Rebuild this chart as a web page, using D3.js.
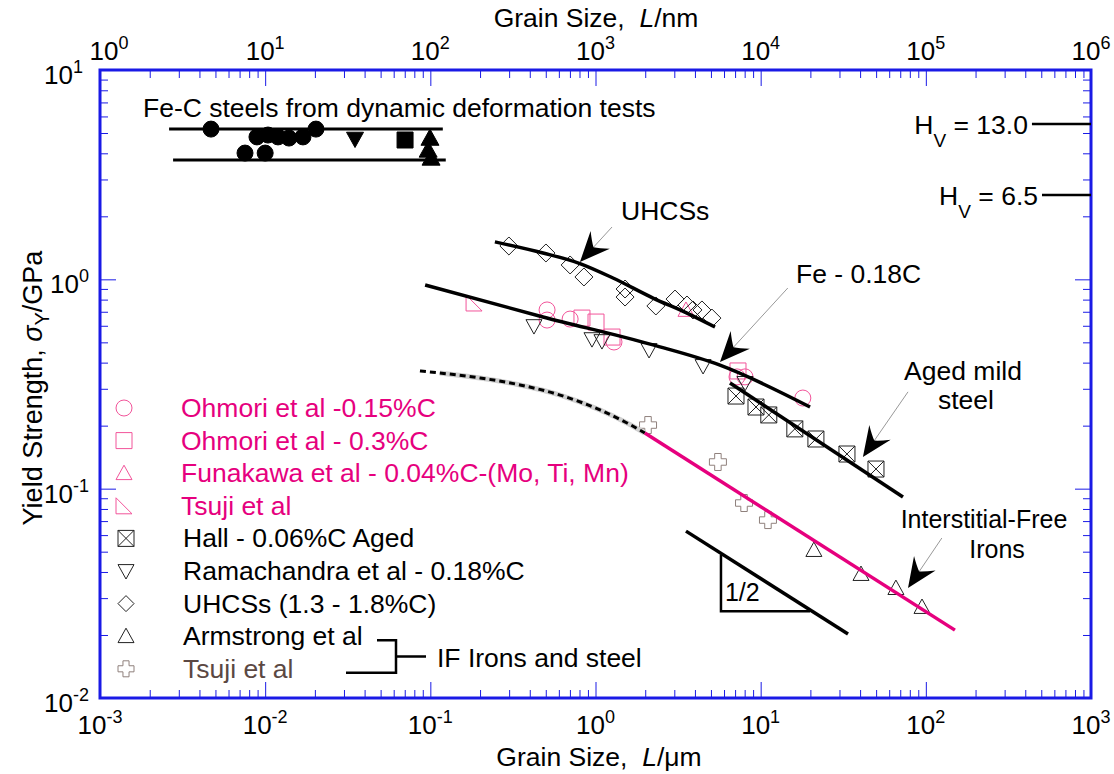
<!DOCTYPE html>
<html>
<head>
<meta charset="utf-8">
<script src="https://cdn.jsdelivr.net/npm/d3@7"></script>
<style>
  body { margin: 0; background: #fff; }
  svg text { font-family: "Liberation Sans", Arial, sans-serif; }
</style>
</head>
<body>
<div id="chart"></div>
<script>
// grain size L in µm, yield strength in GPa

// Fe-C steels from dynamic deformation tests (filled symbols)
var dynCircles = [[0.0047, 5.22], [0.00755, 4.01], [0.00892, 4.79], [0.0100, 4.01], [0.0104, 4.89],
                  [0.01196, 4.79], [0.01394, 4.73], [0.01694, 4.79], [0.0203, 5.22]];
var dynTriDown = [[0.035, 4.68]];
var dynSquares = [[0.0703, 4.63]];
var dynTriUp = [[0.0995, 4.73], [0.097, 4.15], [0.101, 3.80]];
var dynBands = [[[0.00262, 5.22], [0.119, 5.22]], [[0.00277, 3.72], [0.124, 3.72]]];

// open symbols
var ohmori015 = [[0.509, 0.714], [0.509, 0.639], [0.702, 0.646], [1.294, 0.502], [7.19, 0.342], [8.04, 0.342], [18.0, 0.271]];
var ohmori03 = [[0.828, 0.653], [1.007, 0.625], [1.259, 0.530], [7.29, 0.365]];
var funakawa = [[3.53, 0.714]];
var tsujiHS = [[0.184, 0.771]];
var hall = [[7.09, 0.277], [9.37, 0.2455], [11.2, 0.225], [16.1, 0.193], [21.6, 0.1727], [33.3, 0.1464], [49.9, 0.1241]];
var ramachandra = [[0.424, 0.598], [0.952, 0.518], [1.094, 0.507], [2.11, 0.4597], [4.48, 0.3855], [8.04, 0.320]];
var uhcs = [[0.299, 1.443], [0.501, 1.336], [0.702, 1.171], [0.851, 1.026], [1.51, 0.899], [1.51, 0.823],
            [2.32, 0.746], [3.03, 0.805], [3.58, 0.754], [3.89, 0.714], [4.41, 0.714], [5.07, 0.653]];
var armstrong = [[21.0, 0.0509], [40.5, 0.0391], [65.9, 0.0335], [94.8, 0.0272]];
var tsujiIF = [[2.08, 0.2013], [5.51, 0.1341], [7.93, 0.0854], [11.07, 0.0708]];

// trend lines
var uhcsFit = [[0.246, 1.51], [0.481, 1.336], [0.805, 1.19], [1.276, 1.015], [2.23, 0.814], [3.58, 0.690], [5.29, 0.592]];
var fe018Fit = [[0.093, 0.94], [0.481, 0.661], [2.23, 0.486], [5.67, 0.389], [19.9, 0.2455]];
var agedFit = [[6.52, 0.320], [72.7, 0.0912]];
var ifFit = [[1.99, 0.1845], [150, 0.0211]];
var ifDashed = [[0.0865, 0.365], [0.114, 0.357], [0.2, 0.338], [0.349, 0.313], [0.61, 0.280], [1.065, 0.2376], [1.551, 0.206], [1.99, 0.1845]];
var slopeLine = [[3.53, 0.0627], [33.8, 0.0202]];
var slopeTri = [[5.75, 0.0482], [5.75, 0.026], [19.9, 0.026]];

// hardness reference levels (right edge)
var hvLevels = [{ label: "13.0", s: 5.52, from: 439 }, { label: "6.5", s: 2.53, from: 505 }];

// annotation arrows: [tail, tip]
var arrows = [
  [[1.259, 1.778], [0.805, 1.21]],
  [[14.6, 0.909], [5.67, 0.403]],
  [[78.0, 0.290], [41.6, 0.1416]],
  [[125, 0.0581], [78, 0.0335]]
];

var xDecades = [-3, -2, -1, 0, 1, 2, 3];
var yDecades = [-2, -1, 0, 1];
var topDecades = [0, 1, 2, 3, 4, 5, 6];

var pink = "#e6007e", pinkMark = "#f2549a", brown = "#5b4843", crossMark = "#8f807c", blue = "#1a1ae6";

var legendItems = [
  { label: "Ohmori et al -0.15%C", shape: "circle", color: pink, mark: pinkMark },
  { label: "Ohmori et al - 0.3%C", shape: "square", color: pink, mark: pinkMark },
  { label: "Funakawa et al - 0.04%C-(Mo, Ti, Mn)", shape: "triUp", color: pink, mark: pinkMark },
  { label: "Tsuji et al", shape: "rightTri", color: pink, mark: pinkMark },
  { label: "Hall - 0.06%C Aged", shape: "xsquare", color: "#000", mark: "#222" },
  { label: "Ramachandra et al - 0.18%C", shape: "triDown", color: "#000", mark: "#222" },
  { label: "UHCSs (1.3 - 1.8%C)", shape: "diamond", color: "#000", mark: "#222" },
  { label: "Armstrong et al", shape: "triUp", color: "#000", mark: "#222" },
  { label: "Tsuji et al", shape: "cross", color: brown, mark: crossMark }
];

var W = 1114, H = 774;
var FS = 26.5;
var svg = d3.select("#chart").append("svg").attr("width", W).attr("height", H);

var x = d3.scaleLog().domain([1e-3, 1e3]).range([100, 1091]);
var y = d3.scaleLog().domain([1e-2, 1e1]).range([698, 70]);
var xTop = d3.scaleLog().domain([1, 1e6]).range([100, 1091]);

var x0 = x.range()[0], x1 = x.range()[1], y0 = y.range()[0], y1 = y.range()[1];

// symbol paths, centred on 0,0
function shapePath(type, s) {
  var h = s / 2;
  switch (type) {
    case "circle":
      return "M" + (-h) + ",0a" + h + "," + h + " 0 1,0 " + s + ",0a" + h + "," + h + " 0 1,0 " + (-s) + ",0Z";
    case "square":
      return "M" + (-h) + "," + (-h) + "H" + h + "V" + h + "H" + (-h) + "Z";
    case "xsquare":
      return "M" + (-h) + "," + (-h) + "H" + h + "V" + h + "H" + (-h) + "Z" +
        "M" + (-h) + "," + (-h) + "L" + h + "," + h + "M" + h + "," + (-h) + "L" + (-h) + "," + h;
    case "triUp":
      return "M0," + (-h) + "L" + h + "," + (h * 0.8) + "L" + (-h) + "," + (h * 0.8) + "Z";
    case "triDown":
      return "M" + (-h) + "," + (-h * 0.8) + "L" + h + "," + (-h * 0.8) + "L0," + h + "Z";
    case "rightTri":
      return "M" + (-h) + "," + (-h) + "L" + (-h) + "," + h + "L" + h + "," + h + "Z";
    case "diamond":
      return "M0," + (-h) + "L" + h + ",0L0," + h + "L" + (-h) + ",0Z";
    case "cross":
      var a = s * 0.19;
      return "M" + (-a) + "," + (-h) + "H" + a + "V" + (-a) + "H" + h + "V" + a + "H" + a + "V" + h +
        "H" + (-a) + "V" + a + "H" + (-h) + "V" + (-a) + "H" + (-a) + "Z";
  }
}

var line = d3.line().x(function (d) { return x(d[0]); }).y(function (d) { return y(d[1]); });
var curve = d3.line().curve(d3.curveMonotoneX).x(function (d) { return x(d[0]); }).y(function (d) { return y(d[1]); });

// ---- frame and ticks ----
function minorVals(decades) {
  var out = [];
  decades.slice(0, -1).forEach(function (e) {
    for (var k = 2; k <= 9; k++) out.push(k * Math.pow(10, e));
  });
  return out;
}
function majorVals(decades) { return decades.map(function (e) { return Math.pow(10, e); }); }

function tickGroup(axis, transform) {
  var g = svg.append("g").attr("transform", transform).call(axis);
  g.select(".domain").remove();
  g.selectAll("line").attr("stroke", blue).attr("stroke-width", 1);
  g.selectAll("text").remove();
}

tickGroup(d3.axisBottom(x).tickValues(minorVals(xDecades)).tickSize(-8), "translate(0," + y0 + ")");
tickGroup(d3.axisBottom(x).tickValues(majorVals(xDecades)).tickSize(-16), "translate(0," + y0 + ")");
tickGroup(d3.axisTop(xTop).tickValues(minorVals(topDecades)).tickSize(-8), "translate(0," + y1 + ")");
tickGroup(d3.axisTop(xTop).tickValues(majorVals(topDecades)).tickSize(-16), "translate(0," + y1 + ")");
tickGroup(d3.axisLeft(y).tickValues(minorVals(yDecades)).tickSize(-8), "translate(" + x0 + ",0)");
tickGroup(d3.axisLeft(y).tickValues(majorVals(yDecades)).tickSize(-16), "translate(" + x0 + ",0)");
tickGroup(d3.axisRight(y).tickValues(minorVals(yDecades)).tickSize(-8), "translate(" + x1 + ",0)");
tickGroup(d3.axisRight(y).tickValues(majorVals(yDecades)).tickSize(-16), "translate(" + x1 + ",0)");

svg.append("rect")
  .attr("x", x0).attr("y", y1).attr("width", x1 - x0).attr("height", y0 - y1)
  .attr("fill", "none").attr("stroke", blue).attr("stroke-width", 3);

// power-of-ten labels
function powLabel(px, py, e, anchor) {
  var t = svg.append("text").attr("x", px).attr("y", py).attr("text-anchor", anchor).attr("font-size", 26);
  t.append("tspan").text("10");
  t.append("tspan").attr("dy", -11).attr("font-size", 18).text(String(e));
}
xDecades.forEach(function (e) { powLabel(x(Math.pow(10, e)), y0 + 36, e, "middle"); });
// the corner labels sit close together, so nudge them apart
topDecades.forEach(function (e, i) { powLabel(xTop(Math.pow(10, e)) + (i === 0 ? 9 : 0), y1 - 10, e, "middle"); });
yDecades.forEach(function (e, i) { powLabel(x0 - (i === yDecades.length - 1 ? 17 : 11), y(Math.pow(10, e)) + 14, e, "end"); });

// axis titles
var tt = svg.append("text").attr("x", 596).attr("y", 27).attr("text-anchor", "middle").attr("font-size", 26.5);
tt.append("tspan").text("Grain Size,\u00a0 ");
tt.append("tspan").attr("font-style", "italic").text("L");
tt.append("tspan").text("/nm");

var bt = svg.append("text").attr("x", 599).attr("y", 766).attr("text-anchor", "middle").attr("font-size", 26.5);
bt.append("tspan").text("Grain Size,\u00a0\u00a0");
bt.append("tspan").attr("font-style", "italic").text("L");
bt.append("tspan").text("/\u03bcm");

var lt = svg.append("text").attr("transform", "translate(42,388) rotate(-90)").attr("text-anchor", "middle").attr("font-size", 27);
lt.append("tspan").text("Yield Strength, ");
lt.append("tspan").attr("font-style", "italic").text("\u03c3");
lt.append("tspan").attr("dy", 7).attr("font-size", 20).text("Y");
lt.append("tspan").attr("dy", -7).text("/GPa");

// ---- dynamic deformation group ----
svg.append("text").attr("x", 143).attr("y", 117).attr("font-size", FS)
  .text("Fe-C steels from dynamic deformation tests");

svg.selectAll(".band").data(dynBands).enter().append("path")
  .attr("d", line).attr("fill", "none").attr("stroke", "#000").attr("stroke-width", 3);

function drawMarks(data, shape, size, stroke, fill, sw) {
  svg.append("g").selectAll("path").data(data).enter().append("path")
    .attr("transform", function (d) { return "translate(" + x(d[0]) + "," + y(d[1]) + ")"; })
    .attr("d", shapePath(shape, size))
    .attr("fill", fill).attr("stroke", stroke).attr("stroke-width", sw);
}

drawMarks(dynCircles, "circle", 16, "#000", "#000", 1);
drawMarks(dynTriDown, "triDown", 17, "#000", "#000", 1);
drawMarks(dynSquares, "square", 16, "#000", "#000", 1);
drawMarks(dynTriUp, "triUp", 18, "#000", "#000", 1);

// ---- hardness levels ----
hvLevels.forEach(function (h) {
  svg.append("path").attr("d", line([[h.from, h.s], [1e3, h.s]]))
    .attr("stroke", "#000").attr("stroke-width", 2.5).attr("fill", "none");
  var t = svg.append("text").attr("x", x(h.from) - 4).attr("y", y(h.s) + 10)
    .attr("text-anchor", "end").attr("font-size", FS);
  t.append("tspan").text("H");
  t.append("tspan").attr("dy", 13).attr("font-size", 19).text("V");
  t.append("tspan").attr("dy", -13).text(" = " + h.label);
});

// ---- open symbol series ----
drawMarks(ohmori015, "circle", 16, pinkMark, "none", 1);
drawMarks(ohmori03, "square", 16, pinkMark, "none", 1);
drawMarks(funakawa, "triUp", 16, pinkMark, "none", 1);
drawMarks(tsujiHS, "rightTri", 16, pinkMark, "none", 1);
drawMarks(hall, "xsquare", 16, "#222", "none", 1);
drawMarks(ramachandra, "triDown", 16, "#222", "none", 1);
drawMarks(uhcs, "diamond", 18, "#222", "none", 1);
drawMarks(armstrong, "triUp", 16, "#222", "none", 1);
drawMarks(tsujiIF, "cross", 17, crossMark, "none", 1);

// ---- trend lines ----
svg.append("path").attr("d", curve(uhcsFit)).attr("fill", "none").attr("stroke", "#000").attr("stroke-width", 3.5);
svg.append("path").attr("d", curve(fe018Fit)).attr("fill", "none").attr("stroke", "#000").attr("stroke-width", 3.5);
svg.append("path").attr("d", line(agedFit)).attr("fill", "none").attr("stroke", "#000").attr("stroke-width", 3.5);
svg.append("path").attr("d", curve(ifDashed.slice(1))).attr("fill", "none").attr("stroke", "#d0d0d0").attr("stroke-width", 5);
svg.append("path").attr("d", curve(ifDashed)).attr("fill", "none").attr("stroke", "#000")
  .attr("stroke-width", 3).attr("stroke-dasharray", "6,4");
svg.append("path").attr("d", line(ifFit)).attr("fill", "none").attr("stroke", pink).attr("stroke-width", 3.5);

// slope triangle
svg.append("path").attr("d", line(slopeLine)).attr("fill", "none").attr("stroke", "#000").attr("stroke-width", 3.5);
svg.append("path").attr("d", line(slopeTri)).attr("fill", "none").attr("stroke", "#000").attr("stroke-width", 2.5);
svg.append("text").attr("x", x(slopeTri[0][0]) + 4).attr("y", y(slopeTri[1][1]) - 10).attr("font-size", 25).text("1/2");

// ---- annotations ----
svg.append("text").attr("x", 621).attr("y", 220).attr("font-size", FS).text("UHCSs");
svg.append("text").attr("x", 796).attr("y", 283).attr("font-size", FS).text("Fe - 0.18C");
svg.append("text").attr("x", 963).attr("y", 380).attr("text-anchor", "middle").attr("font-size", FS).text("Aged mild");
svg.append("text").attr("x", 966).attr("y", 409).attr("text-anchor", "middle").attr("font-size", FS).text("steel");
svg.append("text").attr("x", 984).attr("y", 528).attr("text-anchor", "middle").attr("font-size", 25).text("Interstitial-Free");
svg.append("text").attr("x", 997).attr("y", 558).attr("text-anchor", "middle").attr("font-size", 25).text("Irons");

arrows.forEach(function (a) {
  var tx = x(a[0][0]), ty = y(a[0][1]), hx = x(a[1][0]), hy = y(a[1][1]);
  var ang = Math.atan2(hy - ty, hx - tx);
  var len = Math.hypot(hx - tx, hy - ty);
  svg.append("line").attr("x1", tx).attr("y1", ty)
    .attr("x2", tx + Math.cos(ang) * (len - 18)).attr("y2", ty + Math.sin(ang) * (len - 18))
    .attr("stroke", "#999").attr("stroke-width", 1);
  svg.append("path")
    .attr("transform", "translate(" + hx + "," + hy + ") rotate(" + (ang * 180 / Math.PI) + ")")
    .attr("d", "M0,0L-30,-13Q-23,-5 -20,0Q-23,5 -30,13Z").attr("fill", "#000");
});

// ---- legend ----
var leg = svg.append("g");
legendItems.forEach(function (d, i) {
  var by = 417 + i * 32.6;
  leg.append("path").attr("transform", "translate(" + (i < 4 ? 124 : 126) + "," + (by - 9) + ")")
    .attr("d", shapePath(d.shape, 16)).attr("fill", "none").attr("stroke", d.mark).attr("stroke-width", 1);
  leg.append("text").attr("x", i < 4 ? 181 : 183).attr("y", by).attr("font-size", FS).attr("fill", d.color).text(d.label);
});

// IF bracket
var brTop = 417 + 7 * 32.6 - 5, brBot = 417 + 8 * 32.6 - 5;
leg.append("path")
  .attr("d", "M377," + brTop + "H396V" + brBot + "H346M396," + ((brTop + brBot) / 2) + "H426")
  .attr("fill", "none").attr("stroke", "#000").attr("stroke-width", 2.5);
leg.append("text").attr("x", 437).attr("y", (brTop + brBot) / 2 + 10).attr("font-size", FS).text("IF Irons and steel");
</script>
</body>
</html>
